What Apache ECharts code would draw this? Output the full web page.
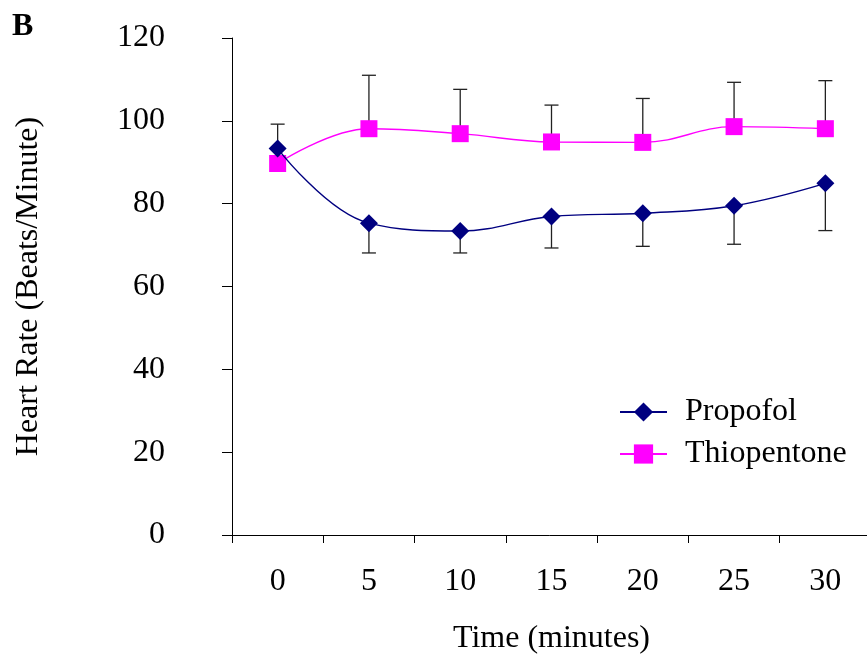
<!DOCTYPE html>
<html><head><meta charset="utf-8">
<script src="https://cdn.jsdelivr.net/npm/echarts@6/dist/echarts.min.js"></script>
<style>html,body{margin:0;padding:0;background:#fff}#c{width:867px;height:659px}</style>
</head><body><div id="c"></div>
<script>
var categories = ['0','5','10','15','20','25','30'];
var propofol = [93.3, 75.3, 73.4, 76.9, 77.7, 79.5, 84.9];
var propofolSD = [5.9, 7.2, 5.3, 7.6, 8.0, 9.3, 11.4];
var propofolDir = [1, -1, -1, -1, -1, -1, -1];
var thiopentone = [89.7, 98.1, 96.9, 94.9, 94.8, 98.6, 98.1];
var thiopentoneSD = [null, 12.9, 10.7, 8.9, 10.6, 10.7, 11.6];
var thiopentoneDir = [1, 1, 1, 1, 1, 1, 1];
var yTicks = [0, 20, 40, 60, 80, 100, 120];

var FONT = 'Liberation Serif';
var FS = 32;
function errData(vals, sd, dir) {
  var out = [];
  for (var i = 0; i < vals.length; i++) {
    if (sd[i] == null) continue;
    out.push([i, vals[i], vals[i] + dir[i] * sd[i]]);
  }
  return out;
}
function errSeries(data) {
  return {
    type: 'custom', z: 1, silent: true,
    data: data,
    renderItem: function (params, api) {
      var a = api.coord([api.value(0), api.value(1)]);
      var b = api.coord([api.value(0), api.value(2)]);
      var hw = 7;
      var st = {stroke: '#222', lineWidth: 1.3};
      return {type: 'group', children: [
        {type: 'line', shape: {x1: a[0], y1: a[1], x2: b[0], y2: b[1]}, style: st},
        {type: 'line', shape: {x1: b[0] - hw, y1: b[1], x2: b[0] + hw, y2: b[1]}, style: st}
      ]};
    }
  };
}
var chart = echarts.init(document.getElementById('c'));
chart.setOption({
  animation: false,
  backgroundColor: '#fff',
  grid: {left: 232, top: 38, right: -4, bottom: 124, containLabel: false, outerBoundsMode: 'none'},
  title: {text: 'B', left: 12, top: 11, padding: 0, textStyle: {fontFamily: FONT, fontSize: FS, fontWeight: 'bold', color: '#000'}},
  legend: {
    orient: 'vertical', left: 614, top: 391, itemWidth: 47, itemHeight: 24, itemGap: 10,
    textStyle: {fontFamily: FONT, fontSize: FS, color: '#000', padding: [0, 0, 0, 13]},
    data: ['Propofol', 'Thiopentone']
  },
  xAxis: {
    type: 'category', data: categories, boundaryGap: true,
    name: 'Time (minutes)', nameLocation: 'middle', nameGap: 88,
    nameTextStyle: {fontFamily: FONT, fontSize: FS, color: '#000'},
    axisLine: {lineStyle: {color: '#000', width: 1}},
    axisTick: {show: true, length: 8, lineStyle: {color: '#000'}},
    axisLabel: {fontFamily: FONT, fontSize: FS, color: '#000', margin: 31}
  },
  yAxis: {
    type: 'value', min: 0, max: 120, interval: 20,
    name: 'Heart Rate (Beats/Minute)', nameLocation: 'middle', nameGap: 187, nameRotate: 90,
    nameTextStyle: {fontFamily: FONT, fontSize: FS, color: '#000'},
    axisLine: {show: true, lineStyle: {color: '#000', width: 1}},
    axisTick: {show: true, length: 10, lineStyle: {color: '#000'}},
    splitLine: {show: false},
    axisLabel: {fontFamily: FONT, fontSize: FS, color: '#000', margin: 67,
      formatter: function (v) { return yTicks.indexOf(v) >= 0 ? String(v) : ''; }}
  },
  series: [
    errSeries(errData(propofol, propofolSD, propofolDir)),
    errSeries(errData(thiopentone, thiopentoneSD, thiopentoneDir)),
    {name: 'Propofol', type: 'line', data: propofol, smooth: 0.4, z: 3,
      symbol: 'diamond', symbolSize: 18,
      itemStyle: {color: '#000080'}, lineStyle: {color: '#000080', width: 1.4}},
    {name: 'Thiopentone', type: 'line', data: thiopentone, smooth: 0.4, z: 2,
      symbol: 'rect', symbolSize: 17,
      itemStyle: {color: '#ff00ff'}, lineStyle: {color: '#ff00ff', width: 1.4}}
  ]
});
</script></body></html>
